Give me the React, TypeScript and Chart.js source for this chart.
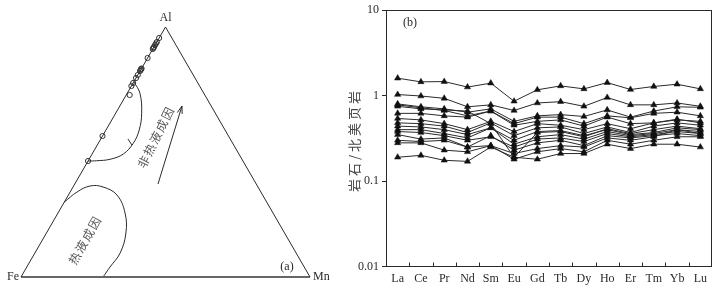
import React, { useEffect, useRef } from "react";
import { Chart, registerables } from "chart.js";

Chart.register(...registerables);

// ---------- (b) REE pattern data ----------
const REE = ["La", "Ce", "Pr", "Nd", "Sm", "Eu", "Gd", "Tb", "Dy", "Ho", "Er", "Tm", "Yb", "Lu"];
const S1 = [1.6, 1.45, 1.46, 1.26, 1.4, 0.86, 1.17, 1.3, 1.2, 1.42, 1.18, 1.28, 1.36, 1.2];
const S2 = [1.03, 0.99, 0.93, 0.74, 0.78, 0.67, 0.82, 0.85, 0.75, 0.95, 0.78, 0.78, 0.82, 0.75];
const S3 = [0.8, 0.74, 0.7, 0.64, 0.7, 0.5, 0.58, 0.6, 0.57, 0.68, 0.56, 0.66, 0.74, 0.73];
const S4 = [0.78, 0.72, 0.67, 0.58, 0.66, 0.47, 0.56, 0.56, 0.47, 0.58, 0.55, 0.62, 0.64, 0.58];
const S5 = [0.75, 0.7, 0.68, 0.66, 0.47, 0.19, 0.37, 0.38, 0.33, 0.41, 0.36, 0.4, 0.44, 0.41];
const S6 = [0.62, 0.62, 0.58, 0.56, 0.66, 0.45, 0.5, 0.52, 0.44, 0.56, 0.47, 0.48, 0.52, 0.5];
const S7 = [0.54, 0.52, 0.47, 0.4, 0.5, 0.38, 0.47, 0.45, 0.4, 0.47, 0.41, 0.48, 0.53, 0.48];
const S8 = [0.48, 0.47, 0.44, 0.37, 0.48, 0.34, 0.42, 0.43, 0.36, 0.43, 0.37, 0.44, 0.48, 0.45];
const S9 = [0.44, 0.43, 0.4, 0.35, 0.42, 0.3, 0.38, 0.39, 0.34, 0.4, 0.35, 0.37, 0.42, 0.4];
const S10 = [0.4, 0.4, 0.36, 0.32, 0.42, 0.27, 0.33, 0.35, 0.31, 0.38, 0.34, 0.36, 0.4, 0.38];
const S11 = [0.38, 0.37, 0.34, 0.3, 0.33, 0.25, 0.31, 0.32, 0.29, 0.36, 0.33, 0.35, 0.38, 0.36];
const S12 = [0.35, 0.31, 0.32, 0.25, 0.34, 0.23, 0.28, 0.3, 0.26, 0.34, 0.32, 0.34, 0.36, 0.34];
const S13 = [0.3, 0.29, 0.3, 0.25, 0.26, 0.21, 0.24, 0.26, 0.25, 0.32, 0.3, 0.33, 0.4, 0.36];
const S14 = [0.28, 0.28, 0.23, 0.22, 0.26, 0.18, 0.22, 0.24, 0.22, 0.3, 0.27, 0.3, 0.33, 0.33];
const S15 = [0.19, 0.2, 0.175, 0.17, 0.25, 0.19, 0.18, 0.21, 0.21, 0.27, 0.24, 0.27, 0.27, 0.25];
const SERIES = [S1, S2, S3, S4, S5, S6, S7, S8, S9, S10, S11, S12, S13, S14, S15];

const Y_TICKS = [0.01, 0.1, 1, 10];
const Y_TICK_LABELS = ["0.01", "0.1", "1", "10"];
const Y_TITLE = "岩石/北美页岩";

// ---------- (a) Fe-Mn-Al ternary data (fractions of Al and Mn; Fe = 1 - Al - Mn) ----------
const VERTEX_NAMES = ["Fe", "Mn", "Al"];
const VERTEX_AL = [0, 0, 1];
const VERTEX_MN = [0, 1, 0];
const SAMPLE_AL = [0.956, 0.94, 0.934, 0.928, 0.92, 0.916, 0.912, 0.876, 0.834, 0.832, 0.828, 0.824, 0.808, 0.796, 0.776, 0.764, 0.728, 0.564, 0.464];
const SAMPLE_MN = [0, 0, 0, 0, 0, 0, 0, 0, 0, 0, 0, 0, 0, 0, 0, 0, 0.012, 0, 0];
const NONHYDRO_AL = [0.781, 0.735, 0.655, 0.588, 0.535, 0.492, 0.471, 0.465, 0.464];
const NONHYDRO_MN = [0, 0.044, 0.09, 0.115, 0.121, 0.108, 0.073, 0.029, 0];
const NONHYDRO_TICK_AL = [0.552, 0.528];
const NONHYDRO_TICK_MN = [0.094, 0.12];
const HYDRO_AL = [0.3, 0.34, 0.364, 0.36, 0.328, 0.256, 0.176, 0.096, 0.04, 0];
const HYDRO_MN = [0, 0.024, 0.057, 0.104, 0.168, 0.232, 0.275, 0.295, 0.288, 0.284];
const ARROW_AL = [0.372, 0.684];
const ARROW_MN = [0.288, 0.215];
const LABEL_NONHYDRO = "非热液成因";
const LABEL_HYDRO = "热液成因";

const SERIF = '"Liberation Serif", "Times New Roman", serif';
const CJK = '"Noto Sans CJK SC", "Noto Sans CJK JP", sans-serif';
const INK = "#2a2a2a";

const SQ3 = Math.sqrt(3) / 2;
const toXY = (al: number[], mn: number[]) => al.map((a, i) => ({ x: mn[i] + a / 2, y: a * SQ3 }));

function TernaryChart() {
  const ref = useRef<HTMLCanvasElement>(null);
  useEffect(() => {
    if (!ref.current) return;
    const line = {
      showLine: true,
      pointRadius: 0,
      borderColor: INK,
      borderWidth: 1,
      clip: false as const,
      tension: 0,
    };
    const verts = toXY(VERTEX_AL, VERTEX_MN);
    const labelPlugin = {
      id: "ternLabels",
      afterDraw(chart: any) {
        const { ctx } = chart;
        const xs = chart.scales.x;
        const ys = chart.scales.y;
        const P = (p: { x: number; y: number }) => [xs.getPixelForValue(p.x), ys.getPixelForValue(p.y)];
        ctx.save();
        ctx.fillStyle = INK;
        ctx.font = `12px ${SERIF}`;
        ctx.textBaseline = "middle";
        const [feX, feY] = P(verts[0]);
        const [mnX, mnY] = P(verts[1]);
        const [alX, alY] = P(verts[2]);
        ctx.textAlign = "right";
        ctx.fillText(VERTEX_NAMES[0], feX - 2, feY);
        ctx.textAlign = "left";
        ctx.fillText(VERTEX_NAMES[1], mnX + 3, mnY);
        ctx.textAlign = "center";
        ctx.fillText(VERTEX_NAMES[2], alX, alY - 9);
        ctx.fillText("(a)", mnX - 23, mnY - 10);

        // arrow head
        const arrow = toXY(ARROW_AL, ARROW_MN);
        const [sx, sy] = P(arrow[0]);
        const [tx, ty] = P(arrow[1]);
        const ang = Math.atan2(ty - sy, tx - sx);
        const L = 8;
        const w = 0.32;
        ctx.strokeStyle = INK;
        ctx.lineWidth = 1;
        ctx.beginPath();
        ctx.moveTo(tx - L * Math.cos(ang - w), ty - L * Math.sin(ang - w));
        ctx.lineTo(tx, ty);
        ctx.lineTo(tx - L * Math.cos(ang + w), ty - L * Math.sin(ang + w));
        ctx.stroke();

        // region labels
        ctx.fillStyle = "#555";
        ctx.font = `12px ${CJK}`;
        ctx.textAlign = "center";
        (ctx as any).letterSpacing = "1.5px";
        ctx.save();
        ctx.translate(156, 137);
        ctx.rotate((-63.5 * Math.PI) / 180);
        ctx.fillText(LABEL_NONHYDRO, 0, 0);
        ctx.restore();
        ctx.save();
        ctx.translate(85, 240);
        ctx.rotate((-60.5 * Math.PI) / 180);
        ctx.fillText(LABEL_HYDRO, 0, 0);
        ctx.restore();
        ctx.restore();
      },
    };
    const chart = new Chart(ref.current, {
      type: "scatter",
      data: {
        datasets: [
          { ...line, data: [verts[0], verts[2], verts[1]] },
          { ...line, data: [verts[0], verts[1]], borderColor: "#666", borderWidth: 2 },
          { ...line, data: toXY(NONHYDRO_AL, NONHYDRO_MN), tension: 0.4 },
          { ...line, data: toXY(NONHYDRO_TICK_AL, NONHYDRO_TICK_MN) },
          { ...line, data: toXY(HYDRO_AL, HYDRO_MN), tension: 0.4 },
          { ...line, data: toXY(ARROW_AL, ARROW_MN) },
          {
            data: toXY(SAMPLE_AL, SAMPLE_MN),
            showLine: false,
            pointRadius: 2.6,
            pointStyle: "circle",
            pointBackgroundColor: "rgba(255,255,255,0)",
            pointBorderColor: "#333",
            pointBorderWidth: 1,
            clip: false as const,
          },
        ] as any,
      },
      options: {
        responsive: false,
        animation: false,
        devicePixelRatio: 1,
        layout: { padding: { left: 21, right: 20, top: 27, bottom: 9 } },
        plugins: { legend: { display: false }, tooltip: { enabled: false } },
        scales: {
          x: { type: "linear", min: 0, max: 1, display: false },
          y: { type: "linear", min: 0, max: SQ3, display: false },
        },
      },
      plugins: [labelPlugin],
    });
    return () => chart.destroy();
  }, []);
  return (
    <canvas
      ref={ref}
      width={330}
      height={286}
      style={{ position: "absolute", left: 0, top: 0, width: 330, height: 286 }}
    />
  );
}

function ReeChart() {
  const ref = useRef<HTMLCanvasElement>(null);
  useEffect(() => {
    if (!ref.current) return;
    const framePlugin = {
      id: "frame",
      afterDraw(chart: any) {
        const { ctx, chartArea: a } = chart;
        const xs = chart.scales.x;
        ctx.save();
        ctx.strokeStyle = INK;
        ctx.lineWidth = 1;
        const l = Math.round(a.left) + 0.5;
        const r = Math.round(a.right) - 0.5;
        const t = Math.round(a.top) + 0.5;
        const b = Math.round(a.bottom) - 0.5;
        ctx.strokeRect(l, t, r - l, b - t);
        for (let i = 0; i < REE.length - 1; i++) {
          const px = Math.round((xs.getPixelForValue(i) + xs.getPixelForValue(i + 1)) / 2) + 0.5;
          ctx.beginPath();
          ctx.moveTo(px, b);
          ctx.lineTo(px, b - 4);
          ctx.stroke();
        }
        ctx.fillStyle = INK;
        ctx.font = `12px ${SERIF}`;
        ctx.textBaseline = "middle";
        ctx.textAlign = "left";
        ctx.fillText("(b)", a.left + 17, a.top + 13);

        ctx.fillStyle = "#444";
        ctx.font = `13px ${CJK}`;
        ctx.textAlign = "center";
        (ctx as any).letterSpacing = "3px";
        ctx.translate(24, 140);
        ctx.rotate(-Math.PI / 2);
        ctx.fillText(Y_TITLE, 0, 0);
        ctx.restore();
      },
    };
    const chart = new Chart(ref.current, {
      type: "line",
      data: {
        labels: REE,
        datasets: SERIES.map((s) => ({
          data: s,
          borderColor: INK,
          borderWidth: 1,
          pointStyle: "triangle",
          pointRadius: 3.6,
          pointBackgroundColor: "#111",
          pointBorderColor: "#111",
          pointBorderWidth: 0.5,
          fill: false,
          tension: 0,
        })),
      },
      options: {
        responsive: false,
        animation: false,
        devicePixelRatio: 1,
        layout: { padding: { left: 0, right: 14, top: 10, bottom: 0 } },
        plugins: { legend: { display: false }, tooltip: { enabled: false } },
        scales: {
          x: {
            type: "category",
            offset: true,
            grid: { display: false, drawTicks: false },
            border: { display: false },
            ticks: { color: INK, font: { family: SERIF, size: 12 }, padding: 5, maxRotation: 0, autoSkip: false },
            afterFit: (s: any) => {
              s.height = 19.5;
            },
          },
          y: {
            type: "logarithmic",
            min: 0.01,
            max: 10,
            grid: { display: true, drawOnChartArea: false, drawTicks: true, tickLength: 4, color: INK },
            border: { display: false },
            afterBuildTicks: (s: any) => {
              s.ticks = Y_TICKS.map((v) => ({ value: v }));
            },
            ticks: {
              color: INK,
              font: { family: SERIF, size: 12 },
              padding: 3,
              callback: (v: any) => {
                const i = Y_TICKS.indexOf(Number(v));
                return i >= 0 ? Y_TICK_LABELS[i] : "";
              },
            },
            afterFit: (s: any) => {
              s.width = 56;
            },
          },
        },
      },
      plugins: [framePlugin],
    });
    return () => chart.destroy();
  }, []);
  return (
    <canvas
      ref={ref}
      width={396}
      height={286}
      style={{ position: "absolute", left: 330, top: 0, width: 396, height: 286 }}
    />
  );
}

export default function App() {
  return (
    <div style={{ position: "fixed", left: 0, top: 0, width: 726, height: 286, background: "#fff", overflow: "hidden" }}>
      <TernaryChart />
      <ReeChart />
    </div>
  );
}
